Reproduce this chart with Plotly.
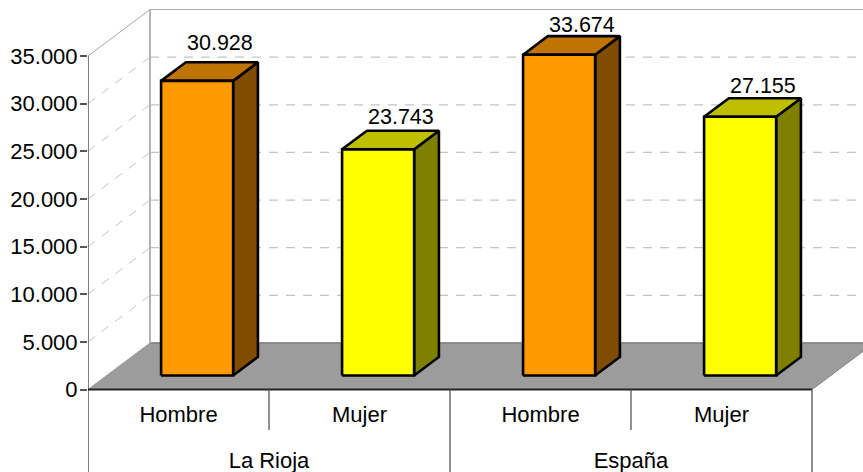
import plotly.graph_objects as go

# ---- data ----
regions = ["La Rioja", "España"]
categories = ["Hombre", "Mujer", "Hombre", "Mujer"]
values = [30928, 23743, 33674, 27155]
value_labels = ["30.928", "23.743", "33.674", "27.155"]
y_ticks = [0, 5000, 10000, 15000, 20000, 25000, 30000, 35000]
y_tick_labels = ["0", "5.000", "10.000", "15.000", "20.000", "25.000", "30.000", "35.000"]

# ---- style / geometry ----
W, H = 863, 472
X0_PX, Y0_PX = 88.0, 389.5
CAT_PX = 181.0
PX_PER_UNIT = 47.64 / 5000
DEPTH_X = 62.0 / CAT_PX          # wall depth in category units
DEPTH_Y = 46.5 / PX_PER_UNIT     # wall depth in value units
BAR_W = 0.398
BAR_D0, BAR_D1 = 0.30, 0.70
FRONT = ["#FF9900", "#FFFF00", "#FF9900", "#FFFF00"]
TOP = ["#BF7300", "#BFBF00", "#BF7300", "#BFBF00"]
SIDE = ["#804C00", "#808000", "#804C00", "#808000"]
LABEL_SHIFT = [7, 2, -1, 0]
FONT = "Liberation Sans, Arial, sans-serif"
YMAX = y_ticks[-1]
N = len(categories)


def proj(x, v, d=0.0):
    return x + d * DEPTH_X, v + d * DEPTH_Y


def poly(pts, fill=None, line="#000000", width=2.6, dash=None, closed=True):
    xs = [p[0] for p in pts]
    ys = [p[1] for p in pts]
    if closed:
        xs.append(xs[0])
        ys.append(ys[0])
    return go.Scatter(
        x=xs, y=ys, mode="lines" if width else "none",
        fill="toself" if fill else None, fillcolor=fill,
        line=dict(color=line, width=width, dash=dash),
        hoverinfo="skip", showlegend=False, cliponaxis=False,
    )


def line(p, q, color, width=1, dash=None):
    return poly([p, q], None, color, width, dash, closed=False)


fig = go.Figure()
WALL_END = N + 0.6

# floor
fig.add_trace(poly([proj(0, 0), proj(N, 0), proj(N, 0, 1), proj(WALL_END, 0, 1), proj(0, 0, 1)],
                   "#9C9C9C", "#9C9C9C", 1))
fig.add_trace(line(proj(N, 0), proj(N, 0, 1), "#8a8a8a", 1))
fig.add_trace(line(proj(0, 0, 1), proj(WALL_END, 0, 1), "#808080", 1.5))

# walls and gridlines
for t in y_ticks[1:-1]:
    fig.add_trace(line(proj(0, t, 1), proj(WALL_END, t, 1), "#C4C4C4", 1.2, "9px,8px"))
    fig.add_trace(line(proj(0, t), proj(0, t, 1), "#C4C4C4", 1, "9px,8px"))
fig.add_trace(line(proj(0, YMAX, 1), proj(WALL_END, YMAX, 1), "#A8A8A8", 1.2))
fig.add_trace(line(proj(0, 0, 1), proj(0, YMAX, 1), "#B4B4B4", 2))
fig.add_trace(line(proj(0, YMAX), proj(0, YMAX, 1), "#A8A8A8", 1))

# axis frame and separators
y_bottom = -(H - Y0_PX) / PX_PER_UNIT
y_inner = -(430 - Y0_PX) / PX_PER_UNIT
fig.add_trace(line((0, YMAX), (0, y_bottom), "#555555", 1.5))
fig.add_trace(line((0, 0), (N, 0), "#222222", 2))
for i in range(1, N + 1):
    end = y_bottom if i % 2 == 0 else y_inner
    fig.add_trace(line((i, 0), (i, end), "#555555", 1.3))

# bars
for i, v in enumerate(values):
    xl = i + 0.5 - BAR_W / 2
    xr = xl + BAR_W
    d0, d1 = BAR_D0, BAR_D1
    fig.add_trace(poly([proj(xr, 0, d0), proj(xr, 0, d1), proj(xr, v, d1), proj(xr, v, d0)], SIDE[i]))
    fig.add_trace(poly([proj(xl, v, d0), proj(xr, v, d0), proj(xr, v, d1), proj(xl, v, d1)], TOP[i]))
    fig.add_trace(poly([proj(xl, 0, d0), proj(xr, 0, d0), proj(xr, v, d0), proj(xl, v, d0)], FRONT[i]))

# category labels
cat_y = -(416.5 - Y0_PX) / PX_PER_UNIT
reg_y = -(462.5 - Y0_PX) / PX_PER_UNIT
fig.add_trace(go.Scatter(x=[i + 0.5 for i in range(N)], y=[cat_y] * N, text=categories,
                         mode="text", textposition="middle center",
                         textfont=dict(family=FONT, size=22, color="#000000"),
                         hoverinfo="skip", showlegend=False, cliponaxis=False))
fig.add_trace(go.Scatter(x=[1, 3], y=[reg_y] * 2, text=regions,
                         mode="text", textposition="middle center",
                         textfont=dict(family=FONT, size=22, color="#000000"),
                         hoverinfo="skip", showlegend=False, cliponaxis=False))

# value labels
annotations = []
for i, v in enumerate(values):
    xl = i + 0.5 - BAR_W / 2
    lx, ly = proj(xl + BAR_W / 2, v, BAR_D1)
    annotations.append(dict(x=lx - 1.5 / CAT_PX, y=ly, text=value_labels[i], showarrow=False,
                            xanchor="center", yanchor="bottom", yshift=LABEL_SHIFT[i],
                            borderpad=0, borderwidth=0,
                            font=dict(family=FONT, size=21.5, color="#000000")))

fig.update_layout(
    width=W, height=H, margin=dict(l=X0_PX, r=0, t=0, b=0),
    paper_bgcolor="#FFFFFF", plot_bgcolor="#FFFFFF", showlegend=False,
    xaxis=dict(range=[0, (W - X0_PX) / CAT_PX], visible=False, fixedrange=True),
    yaxis=dict(range=[y_bottom, Y0_PX / PX_PER_UNIT], tickmode="array", tickvals=y_ticks,
               ticktext=y_tick_labels, ticks="outside", ticklen=7, tickwidth=1.5,
               tickcolor="#555555", showgrid=False, zeroline=False, showline=False,
               ticklabelstandoff=-2,
               tickfont=dict(family=FONT, size=22, color="#000000"), fixedrange=True),
    annotations=annotations,
)
fig.write_html("out.html", config={"displayModeBar": False},
               post_script="document.body.style.margin='0';document.body.style.overflow='hidden';")
